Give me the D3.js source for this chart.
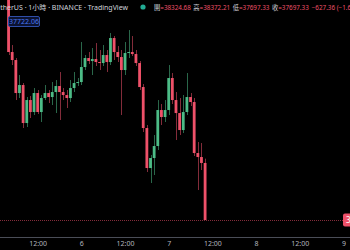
<!DOCTYPE html>
<html>
<head>
<meta charset="utf-8">
<script src="https://cdn.jsdelivr.net/npm/d3@7"></script>
<style>
body{margin:0;background:#000;overflow:hidden}
svg{display:block;font-family:"Noto Sans","Noto Sans CJK TC",sans-serif}
</style>
</head>
<body>
<div id="chart"></div>
<script>
// hourly candles, first one is 5th 04:00
var opens  = [40205,39545,39457,39094,39182,38764,39017,38885,39094,38885,39039,39094,39050,39105,39171,39105,39072,39039,39149,39204,39215,39380,39479,39446,39468,39435,39424,39512,39435,39699,39545,39490,39347,39534,39545,39523,39424,39160,38709,38269,38379,38511,38907,38830,38907,39259,39017,38874,38687,38885,39050,38995,38434,38390,38324.68];
var highs  = [40227,39622,39479,39292,39204,39050,39061,39149,39127,39072,39182,39127,39215,39237,39325,39149,39127,39237,39325,39259,39655,39512,39545,39589,39644,39567,39622,39567,39754,39721,39611,39567,39655,39787,39721,39567,39446,39193,38742,38412,38632,39017,38973,39017,39402,39314,39105,39039,39072,39314,39094,39039,38555,38544,38372.21];
var lows   = [39512,39402,39017,39039,38709,38720,38819,38852,38863,38775,39017,38984,38962,38874,38797,39017,38929,38995,39105,39171,39182,39347,39413,39292,39391,39347,39391,39325,39402,39457,39435,38852,39292,39479,39501,39391,39127,38665,38225,38104,38192,38467,38742,38775,38852,38973,38577,38632,38654,38852,38951,38401,38027,38247,37697.33];
var closes = [39545,39457,39094,39182,38764,39017,38885,39094,38885,39039,39094,39050,39105,39171,39105,39072,39039,39149,39204,39215,39380,39479,39446,39468,39435,39424,39512,39435,39699,39545,39490,39347,39534,39545,39523,39424,39160,38709,38269,38379,38511,38907,38830,38907,39259,39017,38874,38687,38885,39050,38995,38434,38390,38324.68,37697.33];

var tickHours  = [12,24,36,48,60,72,84,96];
var tickLabels = ["12:00","6","12:00","7","12:00","8","12:00","9"];

var headerLabels = ["開","高","低","收"];
var headerValues = ["38324.68","38372.21","37697.33","37697.33"];
var lastPrice = 37697.33;
var markerValue = "37722.06";

var width = 350, height = 250;
var upColor = "#4cbb86", downColor = "#ee5169";

var svg = d3.select("#chart")
    .append("svg")
    .attr("width", width)
    .attr("height", height);

svg.append("rect")
    .attr("width", width)
    .attr("height", height)
    .attr("fill", "#000");

var t0 = new Date(Date.UTC(2022, 2, 5, 0));
var x = d3.scaleUtc()
    .domain([t0, d3.utcHour.offset(t0, 96)])
    .range([-6, 343.4]);

var y = d3.scaleLinear()
    .domain([37697.33, 40117.33])
    .range([220, 0]);

var candles = opens.map(function(o, i) {
    return {t: d3.utcHour.offset(t0, 4 + i), o: o, h: highs[i], l: lows[i], c: closes[i]};
});

// last price line
svg.append("line")
    .attr("x1", 0).attr("x2", width)
    .attr("y1", Math.round(y(lastPrice)) + 0.5)
    .attr("y2", Math.round(y(lastPrice)) + 0.5)
    .attr("stroke", downColor)
    .attr("stroke-opacity", 0.55)
    .attr("stroke-dasharray", "1,1");

// wicks
svg.selectAll(".wick")
    .data(candles)
    .enter()
    .append("line")
    .attr("class", "wick")
    .attr("x1", function(d) { return Math.round(x(d.t)) + 0.5; })
    .attr("x2", function(d) { return Math.round(x(d.t)) + 0.5; })
    .attr("y1", function(d) { return y(d.h); })
    .attr("y2", function(d) { return y(d.l); })
    .attr("stroke", function(d) { return d.c >= d.o ? upColor : downColor; })
    .attr("stroke-opacity", 0.55)
    .attr("stroke-width", 1);

// bodies
svg.selectAll(".body")
    .data(candles)
    .enter()
    .append("rect")
    .attr("class", "body")
    .attr("x", function(d) { return x(d.t) - 1.4; })
    .attr("width", 2.8)
    .attr("y", function(d) { return y(Math.max(d.o, d.c)); })
    .attr("height", function(d) { return Math.max(1, Math.abs(y(d.o) - y(d.c))); })
    .attr("fill", function(d) { return d.c >= d.o ? upColor : downColor; });

// price label on right edge (cut off like the screenshot)
var lp = svg.append("g").attr("transform", "translate(343," + y(lastPrice) + ")");
lp.append("rect")
    .attr("x", 0).attr("y", -6.5)
    .attr("width", 40).attr("height", 13)
    .attr("rx", 2)
    .attr("fill", downColor);
lp.append("text")
    .attr("x", 3).attr("y", 3)
    .attr("font-size", 8)
    .attr("fill", "#fff")
    .text(d3.format(".2f")(lastPrice));

// time axis
svg.append("line")
    .attr("x1", 0).attr("x2", width)
    .attr("y1", 237.5).attr("y2", 237.5)
    .attr("stroke", "#4a4d57");

var xAxis = d3.axisBottom(x)
    .tickValues(tickHours.map(function(h) { return d3.utcHour.offset(t0, h); }))
    .tickFormat(function(d, i) { return tickLabels[i]; })
    .tickSize(0)
    .tickPadding(3);

var gx = svg.append("g")
    .attr("transform", "translate(0,238)")
    .call(xAxis);
gx.select(".domain").remove();
gx.selectAll("text")
    .attr("font-family", "Noto Sans, sans-serif")
    .attr("font-size", 7)
    .attr("fill", "#b2b5be");

// header line
svg.append("text")
    .attr("x", 128).attr("y", 9.5)
    .attr("text-anchor", "end")
    .attr("font-size", 7)
    .attr("fill", "#d1d4dc")
    .text("Bitcoin / TetherUS · 1小時 · BINANCE · TradingView");

svg.append("circle")
    .attr("cx", 143).attr("cy", 7)
    .attr("r", 2.6)
    .attr("fill", "#22ab94");

var hdr = svg.append("text")
    .attr("x", 154).attr("y", 9.5)
    .attr("font-size", 6.3);
headerLabels.forEach(function(l, i) {
    hdr.append("tspan").attr("fill", "#d1d4dc").attr("dx", i ? 2.5 : 0).text(l);
    hdr.append("tspan").attr("fill", downColor).text("=" + headerValues[i]);
});
hdr.append("tspan").attr("fill", downColor).attr("dx", 3).text("−627.36 (−1.64%)");

// marker box
svg.append("rect")
    .attr("x", 8.5).attr("y", 16.5)
    .attr("width", 31).attr("height", 10)
    .attr("rx", 1.5)
    .attr("fill", "#0b1230")
    .attr("stroke", "#2f4ea8");
svg.append("text")
    .attr("x", 24).attr("y", 24)
    .attr("text-anchor", "middle")
    .attr("font-size", 7)
    .attr("fill", "#4a78f0")
    .text(markerValue);
</script>
</body>
</html>
